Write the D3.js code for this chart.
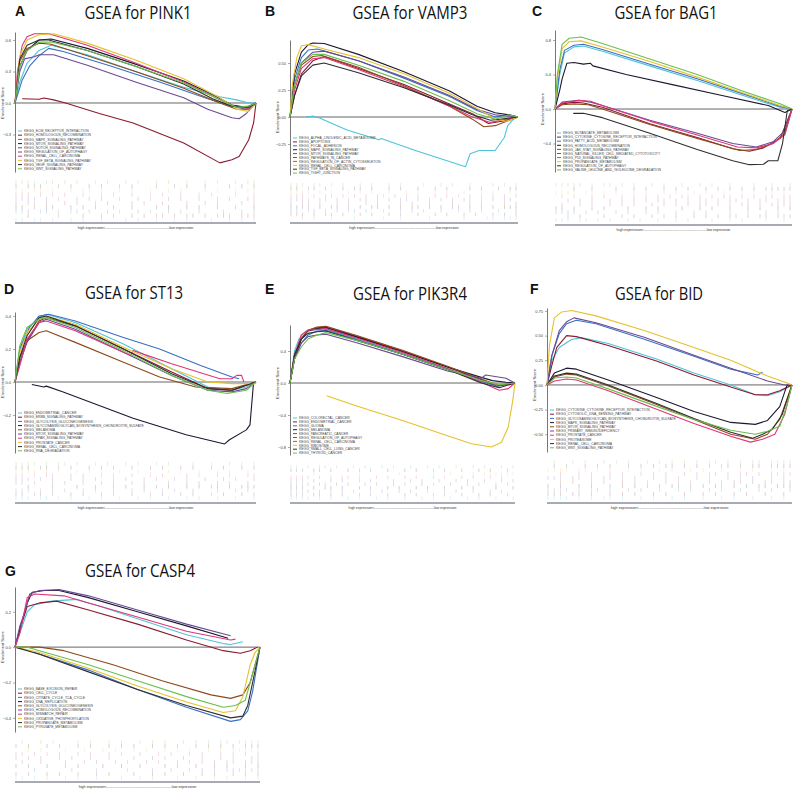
<!DOCTYPE html>
<html lang="en">
<head>
<meta charset="UTF-8">
<title>GSEA panels</title>
<script src="https://d3js.org/d3.v7.min.js"></script>
<style>
  body { margin: 0; background: #fff; }
  svg { display: block; }
  .tick text { font-family: "Liberation Sans", Arial, sans-serif; }
</style>
</head>
<body>
<svg width="795" height="790"></svg>
<script>
// shared palette, in legend order
const COLORS = ["#4fc3d9", "#8b1a2e", "#3b6fc2", "#1c1830", "#8c4a1c",
                "#6a4a96", "#e0357a", "#e6c12e", "#2e2e2e", "#6bbf4e"];

// ---------- A: PINK1 ----------
const PINK1_SETS = ["KEGG_ECM_RECEPTOR_INTERACTION", "KEGG_HOMOLOGOUS_RECOMBINATION", "KEGG_MAPK_SIGNALING_PATHWAY",
  "KEGG_MTOR_SIGNALING_PATHWAY", "KEGG_NOTCH_SIGNALING_PATHWAY", "KEGG_REGULATION_OF_AUTOPHAGY", "KEGG_RENAL_CELL_CARCINOMA",
  "KEGG_TGF_BETA_SIGNALING_PATHWAY", "KEGG_VEGF_SIGNALING_PATHWAY", "KEGG_WNT_SIGNALING_PATHWAY"];
const PINK1_ES = [
  [[0,0],[0.02,0.2],[0.05,0.38],[0.1,0.5],[0.15,0.55],[0.3,0.46],[0.5,0.3],[0.7,0.15],[0.85,0.06],[0.92,0.03],[0.97,0.0],[1,0]],
  [[0.03,0.04],[0.1,0.035],[0.12,0.048],[0.16,0.03],[0.21,0.0],[0.35,-0.1],[0.49,-0.19],[0.7,-0.38],[0.85,-0.57],[0.9,-0.54],[0.93,-0.51],[0.97,-0.35],[0.99,-0.19],[1,0]],
  [[0,0],[0.03,0.22],[0.06,0.35],[0.1,0.45],[0.14,0.52],[0.2,0.49],[0.4,0.35],[0.6,0.2],[0.8,0.04],[0.9,-0.03],[0.96,-0.06],[1,0]],
  [[0,0],[0.02,0.35],[0.05,0.5],[0.1,0.6],[0.15,0.61],[0.3,0.52],[0.5,0.37],[0.7,0.21],[0.82,0.08],[0.9,-0.02],[0.96,-0.04],[1,0]],
  [[0,0],[0.02,0.4],[0.05,0.52],[0.1,0.57],[0.15,0.56],[0.3,0.45],[0.5,0.3],[0.7,0.14],[0.85,0.0],[0.92,-0.06],[0.97,-0.06],[1,0]],
  [[0,0],[0.02,0.3],[0.04,0.42],[0.08,0.44],[0.1,0.46],[0.16,0.46],[0.3,0.36],[0.5,0.2],[0.7,0.05],[0.8,-0.06],[0.9,-0.14],[0.93,-0.15],[0.96,-0.1],[1,0]],
  [[0,0],[0.01,0.3],[0.03,0.55],[0.05,0.63],[0.08,0.66],[0.14,0.66],[0.3,0.55],[0.5,0.38],[0.7,0.2],[0.85,0.03],[0.92,-0.04],[0.97,-0.05],[1,0]],
  [[0,0],[0.02,0.45],[0.05,0.6],[0.1,0.65],[0.16,0.66],[0.3,0.57],[0.5,0.41],[0.7,0.23],[0.85,0.05],[0.92,-0.06],[0.97,-0.08],[1,0]],
  [[0,0],[0.02,0.42],[0.05,0.55],[0.1,0.6],[0.14,0.6],[0.3,0.5],[0.5,0.35],[0.7,0.18],[0.82,0.04],[0.9,-0.03],[0.97,-0.04],[1,0]],
  [[0,0],[0.02,0.35],[0.05,0.5],[0.1,0.58],[0.15,0.58],[0.3,0.5],[0.5,0.35],[0.7,0.19],[0.85,0.03],[0.92,-0.04],[0.97,-0.03],[1,0]]
];
const PINK1_RUG = [
  "||.||.|..|.|..|...|.|..|..|.|...|..|.|.|",
  "..|....|...|..|.|..|.|.||.|.||.|.|||.|||",
  "|||.||.|.||.|..|.|..|.|..|.|..|...|..|.|",
  "||.|.||..|.|.|..|..|...|.|..|.|..|..|..|",
  "|.||.|..|.|..|.|...|.|..|...|..|.|...|.|",
  "||||.|.|..|.|.|..|..|.|..|.|..|..|.|..||",
  "|||.|.|.|..|..|.|..|..|.|..|..|.|...|..|",
  "||.||.|..|.||.|..|.|..|..|.|...|.|..|.||",
  "|.|||..|.|..|.|..|.|...|..|.|..|...|.|.|",
  "||||.||.|.|..|.|..|.|..|.|..|..|.|..|.||"
];
const PINK1_TICKS = [-0.3, 0, 0.3, 0.6];

// ---------- B: VAMP3 ----------
const VAMP3_SETS = ["KEGG_ALPHA_LINOLENIC_ACID_METABOLISM", "KEGG_APOPTOSIS", "KEGG_FOCAL_ADHESION", "KEGG_MAPK_SIGNALING_PATHWAY",
  "KEGG_MTOR_SIGNALING_PATHWAY", "KEGG_PATHWAYS_IN_CANCER", "KEGG_REGULATION_OF_ACTIN_CYTOSKELETON", "KEGG_RENAL_CELL_CARCINOMA",
  "KEGG_TGF_BETA_SIGNALING_PATHWAY", "KEGG_TIGHT_JUNCTION"];
const VAMP3_ES = [
  [[0.07,0],[0.1,0.01],[0.13,-0.01],[0.25,-0.12],[0.39,-0.21],[0.4,-0.2],[0.55,-0.31],[0.77,-0.46],[0.79,-0.34],[0.83,-0.31],[0.9,-0.31],[0.92,-0.25],[0.94,-0.19],[0.955,-0.08],[0.98,-0.02],[1,0]],
  [[0,0],[0.02,0.2],[0.05,0.4],[0.1,0.52],[0.15,0.56],[0.3,0.45],[0.5,0.3],[0.7,0.12],[0.8,0.03],[0.87,-0.06],[0.93,-0.04],[1,0]],
  [[0,0],[0.02,0.35],[0.05,0.55],[0.08,0.62],[0.12,0.63],[0.3,0.52],[0.5,0.36],[0.7,0.19],[0.82,0.06],[0.9,0.0],[0.96,0.02],[1,0]],
  [[0,0],[0.02,0.4],[0.05,0.6],[0.08,0.67],[0.1,0.685],[0.15,0.68],[0.3,0.58],[0.5,0.42],[0.7,0.24],[0.82,0.1],[0.9,0.04],[0.96,0.02],[1,0]],
  [[0,0],[0.02,0.3],[0.05,0.48],[0.1,0.56],[0.14,0.57],[0.3,0.46],[0.5,0.29],[0.7,0.1],[0.8,-0.02],[0.85,-0.09],[0.9,-0.08],[0.95,-0.04],[1,0]],
  [[0,0],[0.02,0.3],[0.05,0.5],[0.1,0.6],[0.15,0.61],[0.3,0.52],[0.5,0.37],[0.7,0.2],[0.82,0.07],[0.9,0.02],[1,0]],
  [[0,0],[0.02,0.25],[0.05,0.45],[0.1,0.54],[0.15,0.55],[0.3,0.44],[0.5,0.28],[0.7,0.1],[0.8,0.0],[0.88,-0.05],[0.95,-0.02],[1,0]],
  [[0,0],[0.01,0.3],[0.03,0.55],[0.05,0.66],[0.08,0.67],[0.15,0.63],[0.3,0.55],[0.5,0.4],[0.7,0.22],[0.82,0.08],[0.9,-0.02],[0.95,-0.04],[1,0]],
  [[0,0],[0.02,0.2],[0.05,0.38],[0.1,0.48],[0.15,0.5],[0.3,0.41],[0.5,0.27],[0.7,0.11],[0.8,0.02],[0.88,-0.03],[1,0]],
  [[0,0],[0.02,0.3],[0.05,0.5],[0.1,0.58],[0.15,0.58],[0.3,0.48],[0.5,0.33],[0.7,0.15],[0.82,0.03],[0.9,-0.02],[0.96,0.02],[1,0]]
];
const VAMP3_RUG = [
  "..|.|..|...|....|..|....|.....|...||.|||",
  "|||.|.||.|..|.|..|.|..|..|.|..|.|..|.|.|",
  "||.||.|.|.||.|..|..|.|.|..|..|.|.|..|..|",
  "||||.|.||.|.|.||.|.|.||.|.|.||.|.|.|.|||",
  "|.||.|..|.|..|.|...|.|..|...|..|.|...|.|",
  "||||.||.|.|.||.|.|.||.|.|.|.|.||.|.|.||.",
  "|||.|.||.|.|.|.||.|.|.|..|.|.|.|.|.|.|.|",
  "||||.|.|..|.|.|..|..|.|..|.|..|..|.|..||",
  "||.||.|..|.||.|..|.|..|..|.|...|.|..|.||",
  "|||.||.|.|..|.|..|.|...|..|.|..|...|.|.|"
];
const VAMP3_TICKS = [-0.25, 0, 0.25, 0.5];

// ---------- C: BAG1 ----------
const BAG1_SETS = ["KEGG_BUTANOATE_METABOLISM", "KEGG_CYTOKINE_CYTOKINE_RECEPTOR_INTERACTION", "KEGG_FATTY_ACID_METABOLISM",
  "KEGG_HOMOLOGOUS_RECOMBINATION", "KEGG_JAK_STAT_SIGNALING_PATHWAY", "KEGG_NATURAL_KILLER_CELL_MEDIATED_CYTOTOXICITY",
  "KEGG_P53_SIGNALING_PATHWAY", "KEGG_PROPANOATE_METABOLISM", "KEGG_REGULATION_OF_AUTOPHAGY",
  "KEGG_VALINE_LEUCINE_AND_ISOLEUCINE_DEGRADATION"];
const BAG1_ES = [
  [[0,0],[0.02,0.4],[0.04,0.65],[0.08,0.72],[0.12,0.73],[0.2,0.67],[0.4,0.5],[0.6,0.33],[0.8,0.15],[0.95,0.02],[1,0]],
  [[0,0],[0.03,0.06],[0.08,0.08],[0.12,0.07],[0.2,0.02],[0.4,-0.17],[0.6,-0.33],[0.75,-0.46],[0.82,-0.49],[0.88,-0.45],[0.95,-0.34],[1,0]],
  [[0,0],[0.02,0.45],[0.04,0.68],[0.08,0.74],[0.12,0.75],[0.2,0.69],[0.4,0.52],[0.6,0.35],[0.8,0.17],[0.95,0.03],[1,0]],
  [[0,0],[0.02,0.22],[0.03,0.35],[0.05,0.53],[0.08,0.54],[0.12,0.52],[0.15,0.53],[0.16,0.5],[0.3,0.4],[0.5,0.28],[0.7,0.16],[0.9,0.04],[0.97,-0.04],[1,0]],
  [[0,0],[0.03,0.05],[0.08,0.06],[0.14,0.05],[0.2,0.0],[0.4,-0.18],[0.6,-0.34],[0.78,-0.48],[0.85,-0.47],[0.92,-0.4],[0.97,-0.28],[1,0]],
  [[0,0],[0.03,0.08],[0.1,0.1],[0.15,0.08],[0.2,0.04],[0.4,-0.13],[0.6,-0.28],[0.75,-0.4],[0.85,-0.44],[0.92,-0.38],[0.97,-0.25],[1,0]],
  [[0,0],[0.03,0.07],[0.1,0.1],[0.15,0.09],[0.2,0.04],[0.4,-0.14],[0.6,-0.3],[0.77,-0.44],[0.85,-0.45],[0.92,-0.4],[0.97,-0.3],[1,0]],
  [[0,0],[0.01,0.35],[0.03,0.7],[0.06,0.78],[0.11,0.79],[0.2,0.72],[0.4,0.55],[0.6,0.37],[0.8,0.18],[0.95,0.04],[1,0]],
  [[0.077,-0.05],[0.12,-0.05],[0.2,-0.1],[0.4,-0.28],[0.6,-0.47],[0.75,-0.6],[0.82,-0.645],[0.88,-0.64],[0.9,-0.6],[0.94,-0.6],[0.96,-0.4],[0.98,-0.02],[1,0]],
  [[0,0],[0.01,0.4],[0.03,0.75],[0.06,0.82],[0.11,0.835],[0.2,0.76],[0.4,0.58],[0.6,0.4],[0.8,0.2],[0.95,0.06],[1,0]]
];
const BAG1_RUG = [
  "|||.||.|.|..|.|..|..|.|...|..|.|...|..|.",
  "..|.|...|..|.|..|.|.|..|.|.|.||.|.||.|||",
  "||||.|.|..|.|..|.|..|..|.|...|..|..|.|..",
  "||.|..|.|...|..|.|...|..|.|..|..|.|..|.|",
  ".|..|.|..|.|.|..|.|.|.|.||.|.|.||.|.||||",
  "..|.|.|..|.|.|.|.||.|.|.||.|.||.|.||.|||",
  ".|.|..|.|..|.|.|.|.|.||.|.|.||.|.|.||.||",
  "||||.||.|.|..|.|..|.|..|.|..|..|.|..|.|.",
  "...|..|...|..|.|..|.|.|..|.|.|.|.|.|||||",
  "|||||.|.||.|.|..|.|..|..|.|..|...|..|..|"
];
const BAG1_TICKS = [-0.4, 0, 0.4, 0.8];

// ---------- D: ST13 ----------
const ST13_SETS = ["KEGG_ENDOMETRIAL_CANCER", "KEGG_ERBB_SIGNALING_PATHWAY", "KEGG_GLYCOLYSIS_GLUCONEOGENESIS",
  "KEGG_GLYCOSAMINOGLYCAN_BIOSYNTHESIS_CHONDROITIN_SULFATE", "KEGG_MELANOMA", "KEGG_MTOR_SIGNALING_PATHWAY",
  "KEGG_PPAR_SIGNALING_PATHWAY", "KEGG_PROSTATE_CANCER", "KEGG_RENAL_CELL_CARCINOMA", "KEGG_RNA_DEGRADATION"];
const ST13_ES = [
  [[0,0],[0.02,0.2],[0.05,0.32],[0.1,0.39],[0.13,0.41],[0.25,0.36],[0.45,0.23],[0.65,0.08],[0.8,-0.03],[0.9,-0.05],[0.96,-0.03],[1,0]],
  [[0,0],[0.02,0.12],[0.05,0.25],[0.1,0.37],[0.13,0.39],[0.25,0.34],[0.45,0.2],[0.65,0.06],[0.8,-0.04],[0.9,-0.05],[1,0]],
  [[0,0],[0.02,0.2],[0.06,0.33],[0.1,0.4],[0.14,0.41],[0.25,0.37],[0.45,0.27],[0.6,0.2],[0.77,0.1],[0.9,0.03],[0.93,0.02]],
  [[0.07,-0.015],[0.12,-0.03],[0.13,-0.025],[0.2,-0.06],[0.49,-0.22],[0.71,-0.32],[0.87,-0.375],[0.89,-0.35],[0.96,-0.29],[0.975,-0.26],[0.99,0]],
  [[0,0],[0.02,0.15],[0.05,0.25],[0.1,0.3],[0.13,0.31],[0.25,0.24],[0.45,0.12],[0.6,0.03],[0.75,-0.03],[0.9,-0.04],[1,0]],
  [[0,0],[0.02,0.12],[0.05,0.24],[0.1,0.36],[0.13,0.38],[0.25,0.32],[0.45,0.18],[0.65,0.04],[0.8,-0.05],[0.9,-0.06],[0.96,-0.04],[1,0]],
  [[0,0],[0.02,0.1],[0.05,0.26],[0.1,0.36],[0.13,0.37],[0.25,0.31],[0.48,0.16],[0.49,0.19],[0.65,0.11],[0.85,0.02],[0.9,0.02],[0.92,0.04],[0.94,0.04],[0.95,0.0]],
  [[0,0],[0.02,0.18],[0.05,0.3],[0.1,0.38],[0.13,0.4],[0.25,0.35],[0.45,0.21],[0.65,0.08],[0.8,0.0],[0.9,-0.01],[1,-0.01]],
  [[0,0],[0.02,0.15],[0.05,0.28],[0.1,0.39],[0.13,0.4],[0.25,0.34],[0.45,0.2],[0.65,0.05],[0.8,-0.04],[0.9,-0.05],[1,0]],
  [[0,0],[0.02,0.22],[0.05,0.33],[0.1,0.38],[0.13,0.39],[0.25,0.33],[0.45,0.19],[0.65,0.04],[0.8,-0.05],[0.88,-0.07],[0.96,-0.05],[1,0]]
];
const ST13_RUG = [
  "|||.||.|.|..|.|..|..|.|..|..|.|..|..|..|",
  "||.||.|..|.|..|.|..|..|.|..|.|..|.|..|.|",
  "|||.|.|.|..|.|..|..|.|..|.|..|...|..|.|.",
  "..|...|...|..|..|.|..|.|.|..|.|.||.|.|||",
  "||.|..|.|..|..|.|..|.|...|..|.|..|.|..|.",
  "|||.|.|..|.|.|..|.|..|.|..|.|..|..|.|..|",
  "||.|.||..|.|..|.|..|..|.|...|.|..|.|..||",
  "||||.|.|..|.|.|..|..|.|..|.|..|..|.|..|.",
  "|||.||.|.|..|.|.|..|..|.|..|.|..|.|..|.|",
  "||||.|.||.|..|.|..|.|..|.|...|..|..|.|.|"
];
const ST13_TICKS = [-0.2, 0, 0.2, 0.4];

// ---------- E: PIK3R4 ----------
const PIK3R4_SETS = ["KEGG_COLORECTAL_CANCER", "KEGG_ENDOMETRIAL_CANCER", "KEGG_GLIOMA", "KEGG_MELANOMA",
  "KEGG_PANCREATIC_CANCER", "KEGG_REGULATION_OF_AUTOPHAGY", "KEGG_RENAL_CELL_CARCINOMA", "KEGG_RIBOSOME",
  "KEGG_SMALL_CELL_LUNG_CANCER", "KEGG_THYROID_CANCER"];
const PIK3R4_ES = [
  [[0,0],[0.02,0.4],[0.04,0.55],[0.07,0.65],[0.1,0.66],[0.15,0.68],[0.3,0.55],[0.5,0.37],[0.7,0.18],[0.85,0.04],[0.92,-0.02],[1,0]],
  [[0,0],[0.02,0.35],[0.05,0.55],[0.08,0.66],[0.12,0.69],[0.16,0.7],[0.3,0.58],[0.5,0.4],[0.7,0.2],[0.85,0.04],[0.92,-0.04],[1,0]],
  [[0,0],[0.02,0.3],[0.05,0.5],[0.08,0.6],[0.12,0.65],[0.16,0.66],[0.3,0.54],[0.5,0.36],[0.7,0.17],[0.85,0.02],[0.92,-0.04],[1,0]],
  [[0,0],[0.02,0.3],[0.05,0.55],[0.08,0.65],[0.12,0.68],[0.16,0.69],[0.3,0.57],[0.5,0.39],[0.7,0.2],[0.85,0.07],[0.9,0.03],[0.96,0.01],[1,0]],
  [[0,0],[0.02,0.35],[0.05,0.55],[0.08,0.66],[0.12,0.7],[0.16,0.71],[0.3,0.59],[0.5,0.41],[0.7,0.21],[0.85,0.05],[0.93,-0.03],[1,0]],
  [[0,0],[0.02,0.3],[0.05,0.5],[0.08,0.58],[0.12,0.6],[0.16,0.61],[0.3,0.5],[0.5,0.33],[0.7,0.15],[0.85,0.06],[0.87,0.1],[0.96,0.06],[1,0]],
  [[0,0],[0.02,0.35],[0.05,0.6],[0.08,0.66],[0.12,0.67],[0.16,0.68],[0.3,0.56],[0.5,0.38],[0.7,0.18],[0.85,0.01],[0.93,-0.09],[0.97,-0.07],[1,0]],
  [[0.163,-0.16],[0.3,-0.29],[0.5,-0.47],[0.7,-0.66],[0.807,-0.76],[0.896,-0.8],[0.94,-0.74],[0.97,-0.55],[0.99,-0.22],[1,0]],
  [[0,0],[0.02,0.35],[0.05,0.55],[0.08,0.62],[0.12,0.64],[0.16,0.65],[0.3,0.53],[0.5,0.36],[0.7,0.17],[0.85,0.0],[0.93,-0.06],[1,0]],
  [[0,0],[0.02,0.3],[0.05,0.45],[0.08,0.55],[0.12,0.6],[0.16,0.63],[0.3,0.53],[0.5,0.36],[0.7,0.17],[0.85,0.03],[0.93,-0.02],[1,0]]
];
const PIK3R4_RUG = [
  "||||.|.|..|.|..|.|..|..|.|..|..|.|..|..|",
  "|||.||.|.|..|.|..|..|.|..|.|..|..|.|..|.",
  "||||.|.|.|.|..|.|..|.|..|..|.|..|..|.|..",
  "|||.|.||.|..|.|..|.|..|.|..|..|.|...|..|",
  "||||.||.|.|..|.|..|.|..|.|..|..|.|..|.|.",
  "|||.|..|.|..|.|...|..|.|..|..|.|..|..|.|",
  "||||.|.|.||.|..|.|..|.|..|.|..|.|..|.|..",
  "....|.......|......|.....|..|...|.||||||",
  "|||.||.|..|.|.|..|..|.|..|.|..|..|.|..|.",
  "||.|.||.|..|.|..|.|..|..|.|..|..|.|..|.|"
];
const PIK3R4_TICKS = [-0.8, -0.4, 0, 0.4];

// ---------- F: BID ----------
const BID_SETS = ["KEGG_CYTOKINE_CYTOKINE_RECEPTOR_INTERACTION", "KEGG_CYTOSOLIC_DNA_SENSING_PATHWAY",
  "KEGG_GLYCOSAMINOGLYCAN_BIOSYNTHESIS_CHONDROITIN_SULFATE", "KEGG_MAPK_SIGNALING_PATHWAY", "KEGG_MTOR_SIGNALING_PATHWAY",
  "KEGG_PRIMARY_IMMUNODEFICIENCY", "KEGG_PROSTATE_CANCER", "KEGG_PROTEASOME", "KEGG_RENAL_CELL_CARCINOMA",
  "KEGG_WNT_SIGNALING_PATHWAY"];
const BID_ES = [
  [[0,0],[0.02,0.25],[0.05,0.38],[0.1,0.46],[0.14,0.48],[0.25,0.42],[0.45,0.26],[0.6,0.12],[0.75,0.0],[0.85,-0.1],[0.9,-0.11],[0.95,-0.07],[1,0]],
  [[0,0],[0.02,0.2],[0.04,0.38],[0.08,0.5],[0.12,0.49],[0.25,0.4],[0.45,0.24],[0.6,0.1],[0.75,-0.02],[0.85,-0.1],[0.9,-0.1],[0.95,-0.06],[1,0]],
  [[0,0],[0.02,0.3],[0.05,0.52],[0.08,0.62],[0.12,0.655],[0.2,0.62],[0.4,0.46],[0.6,0.29],[0.75,0.16],[0.86,0.1],[0.88,0.13]],
  [[0,0],[0.03,0.12],[0.08,0.17],[0.12,0.16],[0.25,0.05],[0.45,-0.13],[0.6,-0.27],[0.75,-0.38],[0.85,-0.4],[0.9,-0.36],[0.95,-0.22],[0.98,0.0],[1,-0.01]],
  [[0,0],[0.03,0.08],[0.08,0.11],[0.12,0.1],[0.25,-0.01],[0.45,-0.2],[0.6,-0.35],[0.75,-0.5],[0.85,-0.55],[0.9,-0.5],[0.95,-0.35],[1,0]],
  [[0,0],[0.02,0.3],[0.05,0.55],[0.08,0.64],[0.11,0.68],[0.2,0.63],[0.4,0.48],[0.6,0.3],[0.75,0.17],[0.9,0.04],[0.97,0.0],[1,0]],
  [[0,0],[0.03,0.04],[0.08,0.06],[0.12,0.05],[0.25,-0.06],[0.45,-0.25],[0.6,-0.39],[0.75,-0.52],[0.83,-0.58],[0.88,-0.55],[0.93,-0.5],[0.97,-0.3],[1,0]],
  [[0,0],[0.01,0.4],[0.03,0.68],[0.06,0.74],[0.1,0.755],[0.2,0.7],[0.4,0.55],[0.6,0.38],[0.75,0.25],[0.9,0.09],[0.98,0.02],[1,0]],
  [[0,0],[0.03,0.09],[0.08,0.12],[0.12,0.11],[0.25,0.0],[0.45,-0.19],[0.6,-0.34],[0.75,-0.48],[0.84,-0.54],[0.88,-0.5],[0.92,-0.45],[0.96,-0.3],[1,0]],
  [[0,0],[0.03,0.07],[0.08,0.08],[0.12,0.07],[0.25,-0.04],[0.45,-0.22],[0.6,-0.35],[0.75,-0.46],[0.85,-0.5],[0.9,-0.47],[0.95,-0.42],[0.98,-0.2],[1,0]]
];
const BID_RUG = [
  "||||.|.|.||.|..|.|..|.|..|..|.|..|..|.|.",
  "|||.||.|..|.|.|..|.|..|..|.|..|.|..|..|.",
  "||||.|.||.|..|.|..|..|.|..|.|..|..|.|..|",
  "|.|..|.|..|.|.|.|.|.||.|.|.||.|.|.||.|||",
  "..|.|..|.|..|.|.|..|.|.|..|.|.||.|.||.||",
  "|||.||.|.||.|.|..|.|.|..|.|..|.|.|..|.|.",
  "..|..|.|..|.|..|.|.|..|.|.||.|.||.|.||||",
  "||||.||.|.|..|.|..|.|..|.|..|..|.|..|.|.",
  ".|.|..|.|.|..|.|.|.||.|.|.|.||.|.||.||||",
  ".|..|.|..|.|.|..|.|.|.|.|.||.|.|.||.||||"
];
const BID_TICKS = [-0.5, -0.25, 0, 0.25, 0.5, 0.75];

// ---------- G: CASP4 ----------
const CASP4_SETS = ["KEGG_BASE_EXCISION_REPAIR", "KEGG_CELL_CYCLE", "KEGG_CITRATE_CYCLE_TCA_CYCLE", "KEGG_DNA_REPLICATION",
  "KEGG_GLYCOLYSIS_GLUCONEOGENESIS", "KEGG_HOMOLOGOUS_RECOMBINATION", "KEGG_MISMATCH_REPAIR",
  "KEGG_OXIDATIVE_PHOSPHORYLATION", "KEGG_PROPANOATE_METABOLISM", "KEGG_PYRUVATE_METABOLISM"];
const CASP4_ES = [
  [[0,0],[0.02,0.08],[0.05,0.2],[0.08,0.24],[0.15,0.26],[0.25,0.27],[0.35,0.23],[0.5,0.16],[0.7,0.07],[0.85,0.02],[0.88,0.015],[0.93,0.03]],
  [[0,0],[0.02,0.1],[0.05,0.23],[0.1,0.25],[0.17,0.26],[0.3,0.21],[0.5,0.13],[0.7,0.04],[0.85,-0.02],[0.92,-0.035],[0.96,-0.02],[0.99,0]],
  [[0.08,-0.03],[0.3,-0.13],[0.5,-0.24],[0.7,-0.34],[0.88,-0.42],[0.92,-0.41],[0.95,-0.36],[0.97,-0.25],[1,0]],
  [[0,0],[0.02,0.1],[0.05,0.25],[0.07,0.31],[0.12,0.32],[0.18,0.32],[0.3,0.28],[0.5,0.2],[0.7,0.12],[0.87,0.05]],
  [[0,0],[0.1,0.0],[0.2,-0.02],[0.4,-0.1],[0.6,-0.19],[0.8,-0.27],[0.88,-0.29],[0.93,-0.27],[0.96,-0.2],[0.99,-0.05],[1,0]],
  [[0,0],[0.02,0.12],[0.04,0.2],[0.06,0.3],[0.1,0.32],[0.18,0.325],[0.3,0.29],[0.5,0.21],[0.7,0.13],[0.88,0.064]],
  [[0,0],[0.02,0.08],[0.05,0.28],[0.08,0.3],[0.2,0.29],[0.3,0.25],[0.5,0.17],[0.7,0.09],[0.88,0.04],[0.9,0.045]],
  [[0,0],[0.1,-0.03],[0.3,-0.12],[0.5,-0.22],[0.7,-0.31],[0.85,-0.37],[0.9,-0.36],[0.93,-0.28],[0.96,-0.1],[0.98,-0.03],[1,0]],
  [[0,0],[0.1,-0.04],[0.3,-0.14],[0.5,-0.24],[0.7,-0.33],[0.88,-0.4],[0.93,-0.39],[0.95,-0.33],[0.97,-0.2],[1,0]],
  [[0,0],[0.05,0.0],[0.1,-0.02],[0.3,-0.1],[0.5,-0.19],[0.7,-0.28],[0.85,-0.34],[0.9,-0.33],[0.94,-0.3],[0.97,-0.15],[1,0]]
];
const CASP4_RUG = [
  "||.|.|..|.|..|...|..|.|...|..|..|.|..|.|",
  "|.|..|.|..|..|.|...|..|.|..|..|.|..|.|.|",
  "...|.....|...|....|...|..|..|.|.|.||||||",
  "|.|..|..|.|...|..|..|...|.|..|..|.|..|.|",
  ".|..|...|..|.|..|.|..|.|..|.|.|.|.||.|||",
  "|.|.|..|.|..|..|...|..|.|..|..|..|.|..||",
  "||.|.|.|..|.|..|.|..|..|.|..|.|..|.|.|.|",
  "..|.|...|..|..|.|..|.|..|.|.|..|.|.|||||",
  "|.|..|.|..|.|..|.|.|..|.|.|..|.|.|.|.|||",
  ".|..|.|...|.|..|.|..|.|.|..|.|.|.||.||||"
];
const CASP4_TICKS = [-0.4, -0.2, 0, 0.2];

// panel placement (pixels)
const panels = [
  { letter: "A", gene: "PINK1", sets: PINK1_SETS, es: PINK1_ES, rug: PINK1_RUG, ticks: PINK1_TICKS, fmt: ".1f",
    x0: 15, x1: 256, top: 32, bottom: 172, dom: [-0.657, 0.676], rug0: 180, rug1: 222, axisY: 223,
    tx: 138, ty: 19, tw: 107, lx: 15, ly: 16, gx: 18, gy: 131, gs: 4.2 },
  { letter: "B", gene: "VAMP3", sets: VAMP3_SETS, es: VAMP3_ES, rug: VAMP3_RUG, ticks: VAMP3_TICKS, fmt: ".2f",
    x0: 290, x1: 518, top: 40, bottom: 175, dom: [-0.537, 0.713], rug0: 183, rug1: 220, axisY: 223,
    tx: 410, ty: 19, tw: 115, lx: 265, ly: 16, gx: 293, gy: 138, gs: 3.9 },
  { letter: "C", gene: "BAG1", sets: BAG1_SETS, es: BAG1_ES, rug: BAG1_RUG, ticks: BAG1_TICKS, fmt: ".1f",
    x0: 555, x1: 792, top: 30, bottom: 172, dom: [-0.73, 0.916], rug0: 183, rug1: 222, axisY: 225,
    tx: 666, ty: 19, tw: 103, lx: 532, ly: 16, gx: 557, gy: 133, gs: 4.1 },
  { letter: "D", gene: "ST13", sets: ST13_SETS, es: ST13_ES, rug: ST13_RUG, ticks: ST13_TICKS, fmt: ".1f",
    x0: 15, x1: 256, top: 312, bottom: 453, dom: [-0.43, 0.424], rug0: 462, rug1: 500, axisY: 503,
    tx: 134, ty: 299, tw: 98, lx: 4, ly: 294, gx: 18, gy: 413, gs: 4.2 },
  { letter: "E", gene: "PIK3R4", sets: PIK3R4_SETS, es: PIK3R4_ES, rug: PIK3R4_RUG, ticks: PIK3R4_TICKS, fmt: ".1f",
    x0: 290, x1: 515, top: 325, bottom: 455, dom: [-0.9, 0.725], rug0: 465, rug1: 500, axisY: 503,
    tx: 410, ty: 300, tw: 114, lx: 265, ly: 294, gx: 293, gy: 418, gs: 3.9 },
  { letter: "F", gene: "BID", sets: BID_SETS, es: BID_ES, rug: BID_RUG, ticks: BID_TICKS, fmt: ".2f",
    x0: 547, x1: 792, top: 308, bottom: 452, dom: [-0.68, 0.78], rug0: 460, rug1: 500, axisY: 503,
    tx: 659, ty: 300, tw: 88, lx: 530, ly: 294, gx: 550, gy: 410, gs: 4.2 },
  { letter: "G", gene: "CASP4", sets: CASP4_SETS, es: CASP4_ES, rug: CASP4_RUG, ticks: CASP4_TICKS, fmt: ".1f",
    x0: 15, x1: 260, top: 587, bottom: 732, dom: [-0.48, 0.34], rug0: 740, rug1: 780, axisY: 782,
    tx: 140, ty: 577, tw: 110, lx: 5, ly: 576, gx: 18, gy: 689, gs: 4.2 }
];

const svg = d3.select("svg");

panels.forEach(p => {
  const g = svg.append("g");
  const x = d3.scaleLinear().domain([0, 1]).range([p.x0, p.x1]);
  const y = d3.scaleLinear().domain(p.dom).range([p.bottom, p.top]);

  // letter + title
  g.append("text").attr("x", p.lx).attr("y", p.ly).text(p.letter)
    .attr("font-family", "Liberation Sans, Arial, sans-serif").attr("font-weight", "bold")
    .attr("font-size", 14).attr("fill", "#111");
  g.append("text").attr("x", p.tx).attr("y", p.ty).attr("text-anchor", "middle")
    .attr("font-family", "Open Sans, Noto Sans, sans-serif").attr("font-size", 19)
    .attr("textLength", p.tw).attr("lengthAdjust", "spacingAndGlyphs")
    .attr("fill", "#111").text("GSEA for " + p.gene);

  // y axis
  const ax = g.append("g").attr("transform", `translate(${p.x0},0)`)
    .call(d3.axisLeft(y).tickValues(p.ticks).tickFormat(d3.format(p.fmt)).tickSize(2).tickPadding(2).tickSizeOuter(0));
  ax.select(".domain").attr("stroke", "#555").attr("stroke-width", 0.8);
  ax.selectAll(".tick line").attr("stroke", "#555").attr("stroke-width", 0.5);
  ax.selectAll(".tick text").attr("font-size", 4).attr("fill", "#444");

  g.append("text")
    .attr("transform", `translate(${p.x0 - 11},${y(0)}) rotate(-90)`)
    .attr("text-anchor", "middle").attr("font-size", 4).attr("fill", "#333")
    .attr("font-family", "Liberation Sans, Arial, sans-serif")
    .text("Enrichment Score");

  // zero line
  g.append("line").attr("x1", p.x0).attr("x2", p.x1).attr("y1", y(0)).attr("y2", y(0))
    .attr("stroke", "#666").attr("stroke-width", 1);

  // running enrichment curves
  const line = d3.line().x(d => x(d[0])).y(d => y(d[1])).curve(d3.curveLinear);
  p.es.forEach((pts, i) => {
    g.append("path").datum(pts).attr("d", line)
      .attr("fill", "none").attr("stroke", COLORS[i]).attr("stroke-width", 1.1)
      .attr("stroke-linejoin", "round");
  });

  // legend
  const lg = g.append("g");
  p.sets.forEach((name, i) => {
    const yy = p.gy + i * p.gs;
    lg.append("line").attr("x1", p.gx).attr("x2", p.gx + 4).attr("y1", yy).attr("y2", yy)
      .attr("stroke", COLORS[i]).attr("stroke-width", 1);
    lg.append("text").attr("x", p.gx + 6).attr("y", yy + 1.2).attr("font-size", 3.4)
      .attr("font-family", "Liberation Sans, Arial, sans-serif").attr("fill", "#444").text(name);
  });

  // rug of gene hits, last set on top
  const rowH = (p.rug1 - p.rug0) / p.rug.length;
  p.rug.forEach((row, i) => {
    const r = p.rug.length - 1 - i;
    const n = row.length;
    const rx = d3.scaleLinear().domain([0, n - 1]).range([p.x0 + 1, p.x1 - 2]);
    row.split("").forEach((c, k) => {
      if (c !== "|") return;
      g.append("line").attr("x1", rx(k)).attr("x2", rx(k))
        .attr("y1", p.rug0 + r * rowH).attr("y2", p.rug0 + (r + 1) * rowH)
        .attr("stroke", COLORS[i]).attr("stroke-width", 0.5).attr("opacity", 0.4);
    });
  });

  // bottom axis + label
  g.append("line").attr("x1", p.x0).attr("x2", p.x1).attr("y1", p.axisY).attr("y2", p.axisY)
    .attr("stroke", "#556").attr("stroke-width", 1);
  g.append("text").attr("x", (p.x0 + p.x1) / 2).attr("y", p.axisY + 5.5)
    .attr("text-anchor", "middle").attr("font-size", 4).attr("fill", "#333")
    .attr("font-family", "Liberation Sans, Arial, sans-serif")
    .attr("textLength", (p.x1 - p.x0) * 0.48).attr("lengthAdjust", "spacingAndGlyphs")
    .text("high expression<-----------------------------------------------------low expression");
});
</script>
</body>
</html>
